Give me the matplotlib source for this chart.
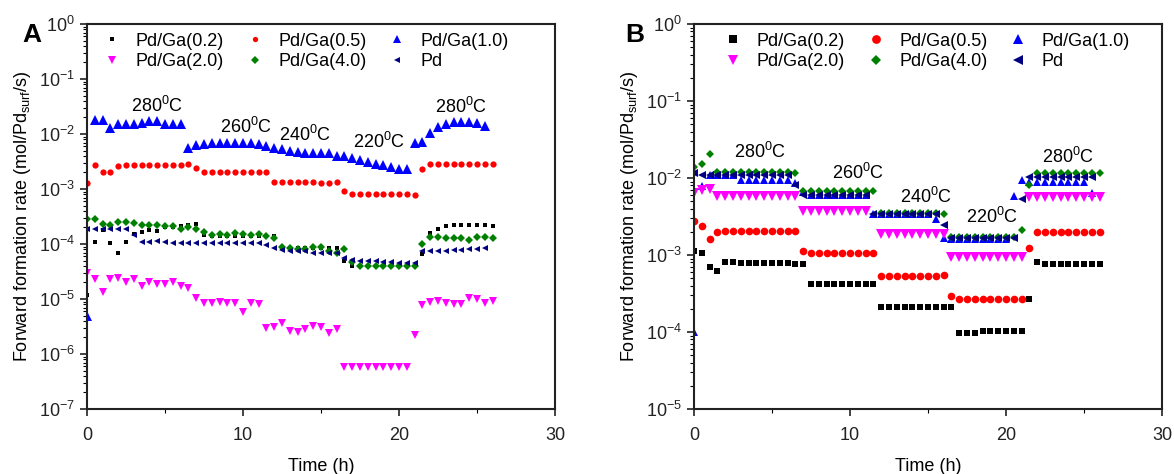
import numpy as np
import matplotlib.pyplot as plt
from matplotlib.ticker import LogLocator, MultipleLocator

plt.rcParams['font.family'] = ['Liberation Sans', 'DejaVu Sans']
plt.rcParams['mathtext.fontset'] = 'custom'
plt.rcParams['mathtext.rm'] = 'Liberation Sans'
plt.rcParams['mathtext.it'] = 'Liberation Sans:italic'
plt.rcParams['mathtext.default'] = 'regular'

nan = np.nan

# sampling times (h), one point every half hour
time_h = [0, 0.5, 1, 1.5, 2, 2.5, 3, 3.5, 4, 4.5, 5, 5.5, 6, 6.5, 7, 7.5, 8, 8.5, 9, 9.5,
          10, 10.5, 11, 11.5, 12, 12.5, 13, 13.5, 14, 14.5, 15, 15.5, 16, 16.5, 17, 17.5,
          18, 18.5, 19, 19.5, 20, 20.5, 21, 21.5, 22, 22.5, 23, 23.5, 24, 24.5, 25, 25.5, 26]

labels = ['Pd/Ga(0.2)', 'Pd/Ga(0.5)', 'Pd/Ga(1.0)', 'Pd/Ga(2.0)', 'Pd/Ga(4.0)', 'Pd']

# ---- panel A ----
a_pdga02 = [1.2e-5, 1.1e-4, 1.8e-4, 1.05e-4, 7e-5, 1.1e-4, 1.5e-4, 1.65e-4, 1.8e-4, 1.75e-4,
            2.0e-4, 2.0e-4, 2.1e-4, 2.2e-4, 2.3e-4, 1.45e-4, 1.4e-4, 1.4e-4, 1.4e-4, 1.4e-4,
            1.4e-4, 1.4e-4, 1.4e-4, 1.4e-4, 1.4e-4, 8.5e-5, 8.5e-5, 8.5e-5, 8.5e-5, 8.5e-5,
            8.5e-5, 8.5e-5, 8.5e-5, 5e-5, 4e-5, 4e-5, 4e-5, 4e-5, 4e-5, 4e-5, 4e-5, 4e-5, 4e-5,
            6.6e-5, 1.6e-4, 1.9e-4, 2.1e-4, 2.2e-4, 2.2e-4, 2.2e-4, 2.2e-4, 2.2e-4, 2.15e-4]
a_pdga05 = [1.3e-3, 2.7e-3, 2.0e-3, 2.0e-3, 2.6e-3, 2.7e-3, 2.7e-3, 2.7e-3, 2.7e-3, 2.7e-3,
            2.7e-3, 2.7e-3, 2.7e-3, 2.8e-3, 2.4e-3, 2.0e-3, 2.0e-3, 2.0e-3, 2.0e-3, 2.0e-3,
            2.0e-3, 2.0e-3, 2.0e-3, 2.0e-3, 1.35e-3, 1.35e-3, 1.35e-3, 1.35e-3, 1.35e-3, 1.35e-3,
            1.3e-3, 1.3e-3, 1.35e-3, 9.2e-4, 8.0e-4, 8.0e-4, 8.0e-4, 8.0e-4, 8.0e-4, 8.0e-4,
            8.0e-4, 8.0e-4, 7.8e-4, 2.3e-3, 2.9e-3, 2.9e-3, 2.9e-3, 2.9e-3, 2.9e-3, 2.9e-3,
            2.9e-3, 2.9e-3, 2.9e-3]
a_pdga10 = [5e-6, 0.018, 0.018, 0.013, 0.015, 0.015, 0.015, 0.016, 0.017, 0.017,
            0.015, 0.015, 0.015, 0.0056, 0.0062, 0.0066, 0.0068, 0.0070, 0.0070, 0.0070,
            0.0068, 0.0068, 0.0065, 0.0060, 0.0056, 0.0053, 0.0050, 0.0047, 0.0046, 0.0046,
            0.0046, 0.0046, 0.0039, 0.0040, 0.0036, 0.0033, 0.0031, 0.0029, 0.0027, 0.0025,
            0.0023, 0.0023, 0.0069, 0.0072, 0.0104, 0.0134, 0.015, 0.0165, 0.0165, 0.0165,
            0.0160, 0.0140, nan]
a_pdga20 = [2.95e-5, 2.3e-5, 1.35e-5, 2.3e-5, 2.4e-5, 2.0e-5, 2.3e-5, 1.7e-5, 2.0e-5, 1.9e-5,
            1.9e-5, 2.0e-5, 1.7e-5, 1.6e-5, 1.05e-5, 8.5e-6, 8.5e-6, 8.8e-6, 8.5e-6, 8.5e-6,
            5.8e-6, 8.5e-6, 8.0e-6, 3.0e-6, 3.1e-6, 3.6e-6, 2.6e-6, 2.5e-6, 2.8e-6, 3.2e-6,
            3.1e-6, 2.4e-6, 2.8e-6, 5.8e-7, 5.8e-7, 5.8e-7, 5.8e-7, 5.8e-7, 5.8e-7, 5.8e-7,
            5.8e-7, 5.8e-7, 2.2e-6, 7.8e-6, 8.8e-6, 9.2e-6, 8.5e-6, 8.1e-6, 8.1e-6, 1.05e-5,
            1.0e-5, 8.5e-6, 9.2e-6]
a_pdga40 = [2.8e-4, 2.8e-4, 2.3e-4, 2.2e-4, 2.5e-4, 2.5e-4, 2.4e-4, 2.2e-4, 2.2e-4, 2.2e-4,
            2.1e-4, 2.1e-4, 1.9e-4, 2.0e-4, 1.9e-4, 1.65e-4, 1.45e-4, 1.5e-4, 1.45e-4, 1.6e-4,
            1.5e-4, 1.45e-4, 1.5e-4, 1.4e-4, 1.3e-4, 9e-5, 8.5e-5, 8e-5, 8.1e-5, 8.7e-5,
            8.7e-5, 7.5e-5, 7.0e-5, 8.1e-5, 4.7e-5, 4.0e-5, 4.0e-5, 4.0e-5, 4.0e-5, 4.0e-5,
            4.0e-5, 4.0e-5, 4.0e-5, 1.0e-4, 1.35e-4, 1.35e-4, 1.3e-4, 1.3e-4, 1.3e-4, 1.2e-4,
            1.35e-4, 1.35e-4, 1.3e-4]
a_pd = [1.85e-4, 1.85e-4, 1.85e-4, 1.85e-4, 1.85e-4, 1.85e-4, 1.45e-4, 1.1e-4, 1.1e-4, 1.15e-4,
        1.1e-4, 1.05e-4, 1.05e-4, 1.05e-4, 1.05e-4, 1.05e-4, 1.05e-4, 1.05e-4, 1.05e-4, 1.05e-4,
        1.05e-4, 1.05e-4, 1.05e-4, 9.6e-5, 8.5e-5, 7.8e-5, 7.5e-5, 7.5e-5, 7.5e-5, 6.8e-5,
        6.8e-5, 7.0e-5, 6.8e-5, 5.6e-5, 5.2e-5, 5.0e-5, 5.0e-5, 5.0e-5, 4.7e-5, 4.7e-5,
        4.5e-5, 4.5e-5, 4.5e-5, 7.5e-5, 7.5e-5, 7.5e-5, 7.5e-5, 7.8e-5, 7.8e-5, 8.1e-5,
        8.1e-5, 8.5e-5, nan]

# ---- panel B ----
b_pdga02 = [1.12e-3, 1.07e-3, 7e-4, 6.2e-4, 8.1e-4, 8.2e-4, 7.8e-4, 7.8e-4, 7.8e-4, 7.8e-4,
            7.8e-4, 7.8e-4, 7.8e-4, 7.6e-4, 7.6e-4, 4.2e-4, 4.2e-4, 4.2e-4, 4.2e-4, 4.2e-4,
            4.2e-4, 4.2e-4, 4.2e-4, 4.2e-4, 2.1e-4, 2.1e-4, 2.1e-4, 2.1e-4, 2.1e-4, 2.1e-4,
            2.1e-4, 2.1e-4, 2.1e-4, 2.1e-4, 9.7e-5, 9.7e-5, 9.7e-5, 1.03e-4, 1.03e-4, 1.03e-4,
            1.03e-4, 1.03e-4, 1.03e-4, 2.7e-4, 8.1e-4, 7.7e-4, 7.7e-4, 7.7e-4, 7.6e-4, 7.6e-4,
            7.6e-4, 7.6e-4, 7.6e-4]
b_pdga05 = [2.75e-3, 2.4e-3, 1.6e-3, 2.0e-3, 2.05e-3, 2.05e-3, 2.05e-3, 2.05e-3, 2.05e-3, 2.05e-3,
            2.05e-3, 2.05e-3, 2.05e-3, 2.05e-3, 1.12e-3, 1.07e-3, 1.07e-3, 1.07e-3, 1.07e-3, 1.07e-3,
            1.07e-3, 1.07e-3, 1.07e-3, 1.07e-3, 5.4e-4, 5.4e-4, 5.4e-4, 5.4e-4, 5.4e-4, 5.4e-4,
            5.4e-4, 5.4e-4, 5.5e-4, 2.95e-4, 2.7e-4, 2.7e-4, 2.7e-4, 2.7e-4, 2.7e-4, 2.7e-4,
            2.7e-4, 2.7e-4, 2.7e-4, 1.23e-3, 2.0e-3, 2.0e-3, 2.0e-3, 2.0e-3, 2.0e-3, 2.0e-3,
            2.0e-3, 2.0e-3, 2.0e-3]
b_pdga10 = [1.0e-4, 7.8e-3, 1.1e-2, 1.1e-2, 1.1e-2, 1.1e-2, 9.5e-3, 9.5e-3, 9.5e-3, 9.5e-3,
            9.5e-3, 9.5e-3, 9.5e-3, 8.6e-3, 6.5e-3, 6.0e-3, 6.0e-3, 6.0e-3, 6.0e-3, 6.0e-3,
            6.0e-3, 6.0e-3, 6.0e-3, 3.4e-3, 3.4e-3, 3.4e-3, 3.4e-3, 3.4e-3, 3.4e-3, 3.4e-3,
            3.4e-3, 2.9e-3, 1.65e-3, 1.6e-3, 1.6e-3, 1.6e-3, 1.6e-3, 1.6e-3, 1.6e-3, 1.6e-3,
            1.6e-3, 5.8e-3, 9.4e-3, 9.0e-3, 9.0e-3, 9.0e-3, 9.0e-3, 9.0e-3, 9.0e-3, 9.0e-3,
            9.0e-3, 6.4e-3, nan]
b_pdga20 = [6.4e-3, 7.0e-3, 7.1e-3, 5.9e-3, 5.9e-3, 5.9e-3, 5.9e-3, 5.9e-3, 5.9e-3, 5.9e-3,
            5.9e-3, 5.9e-3, 5.9e-3, 5.9e-3, 3.7e-3, 3.7e-3, 3.7e-3, 3.7e-3, 3.7e-3, 3.7e-3,
            3.7e-3, 3.7e-3, 3.7e-3, nan, 1.9e-3, 1.9e-3, 1.9e-3, 1.9e-3, 1.9e-3, 1.9e-3,
            1.9e-3, 1.9e-3, 1.9e-3, 9.3e-4, 9.3e-4, 9.3e-4, 9.3e-4, 9.3e-4, 9.3e-4, 9.3e-4,
            9.3e-4, 9.3e-4, 9.3e-4, 5.6e-3, 5.6e-3, 5.6e-3, 5.6e-3, 5.6e-3, 5.6e-3, 5.6e-3,
            5.6e-3, 5.6e-3, 5.6e-3]
b_pdga40 = [1.4e-2, 1.5e-2, 2.05e-2, 1.2e-2, 1.2e-2, 1.2e-2, 1.2e-2, 1.2e-2, 1.2e-2, 1.2e-2,
            1.2e-2, 1.2e-2, 1.2e-2, 1.15e-2, 6.8e-3, 6.8e-3, 6.8e-3, 6.8e-3, 6.8e-3, 6.8e-3,
            6.8e-3, 6.8e-3, 6.8e-3, 6.8e-3, 3.5e-3, 3.5e-3, 3.5e-3, 3.5e-3, 3.5e-3, 3.5e-3,
            3.5e-3, 3.5e-3, 3.4e-3, 1.7e-3, 1.7e-3, 1.7e-3, 1.7e-3, 1.7e-3, 1.7e-3, 1.7e-3,
            1.7e-3, 1.7e-3, 2.1e-3, 8.1e-3, 1.15e-2, 1.15e-2, 1.15e-2, 1.15e-2, 1.15e-2, 1.15e-2,
            1.15e-2, 1.15e-2, 1.15e-2]
b_pd = [1.15e-2, 1.1e-2, 1.1e-2, 1.1e-2, 1.1e-2, 1.1e-2, 1.1e-2, 1.1e-2, 1.1e-2, 1.1e-2,
        1.1e-2, 1.1e-2, 1.1e-2, 8.0e-3, 6.0e-3, 6.0e-3, 6.0e-3, 6.0e-3, 6.0e-3, 6.0e-3,
        6.0e-3, 6.0e-3, 6.0e-3, 3.4e-3, 3.4e-3, 3.4e-3, 3.4e-3, 3.4e-3, 3.4e-3, 3.4e-3,
        3.4e-3, 3.4e-3, 2.45e-3, 1.65e-3, 1.65e-3, 1.65e-3, 1.65e-3, 1.65e-3, 1.65e-3, 1.65e-3,
        1.65e-3, 1.65e-3, 5.3e-3, 1.03e-2, 1.03e-2, 1.03e-2, 1.03e-2, 1.03e-2, 1.03e-2, 1.03e-2,
        1.03e-2, 1.03e-2, nan]

# temperature labels: (text, time, rate)
temps_a = [('280$^0$C', 4.5, 0.033), ('260$^0$C', 10.2, 0.0134), ('240$^0$C', 14.0, 0.0096),
           ('220$^0$C', 18.7, 0.0071), ('280$^0$C', 24.0, 0.031)]
temps_b = [('280$^0$C', 4.2, 0.022), ('260$^0$C', 10.5, 0.0115), ('240$^0$C', 14.9, 0.0057),
           ('220$^0$C', 19.1, 0.0031), ('280$^0$C', 24.0, 0.0187)]

colors = ['#000000', '#ff0000', '#0000ff', '#ff00ff', '#008000', '#000080']
markers = ['s', 'o', '^', 'v', 'D', '<']
ms_a = [3.5, 4.5, 6.5, 6, 4.3, 5]
ms_b = [4.8, 5.5, 5.8, 6.5, 4.3, 5.8]

fig = plt.figure(figsize=(11.74, 4.74), dpi=100)
ax_a = fig.add_axes([87 / 1174, 65 / 474, 468 / 1174, 385 / 474])
ax_b = fig.add_axes([694 / 1174, 65 / 474, 468 / 1174, 385 / 474])

series_a = [a_pdga02, a_pdga05, a_pdga10, a_pdga20, a_pdga40, a_pd]
series_b = [b_pdga02, b_pdga05, b_pdga10, b_pdga20, b_pdga40, b_pd]


def draw(ax, series, sizes, temps, ylim, legend_scale, legend_x):
    handles = []
    for vals, c, m, s, lab in zip(series, colors, markers, sizes, labels):
        h, = ax.plot(time_h, vals, linestyle='none', marker=m, color=c, markersize=s,
                     markeredgewidth=0, label=lab)
        handles.append(h)
    ax.set_yscale('log')
    ax.set_xlim(0, 30)
    ax.set_ylim(*ylim)
    ax.xaxis.set_major_locator(MultipleLocator(10))
    ax.xaxis.set_minor_locator(MultipleLocator(5))
    ax.yaxis.set_major_locator(LogLocator(base=10, numticks=20))
    ax.yaxis.set_minor_locator(LogLocator(base=10, subs=np.arange(2, 10), numticks=20))
    ax.tick_params(which='major', direction='out', length=5, width=1.2, labelsize=13,
                   colors='#222222')
    ax.tick_params(which='minor', direction='out', length=3, width=0.8)
    ax.tick_params(axis='x', which='major', pad=8)
    for sp in ax.spines.values():
        sp.set_linewidth(1.5)
        sp.set_color('#222222')
    ax.set_xlabel('Time (h)', fontsize=13, labelpad=10)
    ax.set_ylabel('Forward formation rate (mol/Pd$_{surf}$/s)', fontsize=13, labelpad=4)
    for txt, t, r in temps:
        ax.text(t, r, txt, fontsize=13, ha='center', va='center')
    order = [0, 3, 1, 4, 2, 5]
    ax.legend([handles[i] for i in order], [labels[i] for i in order], ncol=3,
              loc='upper left', bbox_to_anchor=(legend_x, 1.02), frameon=False,
              fontsize=13, markerscale=legend_scale, handlelength=1.0,
              handletextpad=0.8, columnspacing=1.2, labelspacing=0.2)


draw(ax_a, series_a, ms_a, temps_a, (1e-7, 1), 0.85, 0.0)
draw(ax_b, series_b, ms_b, temps_b, (1e-5, 1), 1.15, 0.03)

fig.text(22 / 1174, 1 - 35 / 474, 'A', fontsize=19, fontweight='bold', va='center', ha='left')
fig.text(625 / 1174, 1 - 35 / 474, 'B', fontsize=19, fontweight='bold', va='center', ha='left')

fig.savefig('out.png', dpi=100)
